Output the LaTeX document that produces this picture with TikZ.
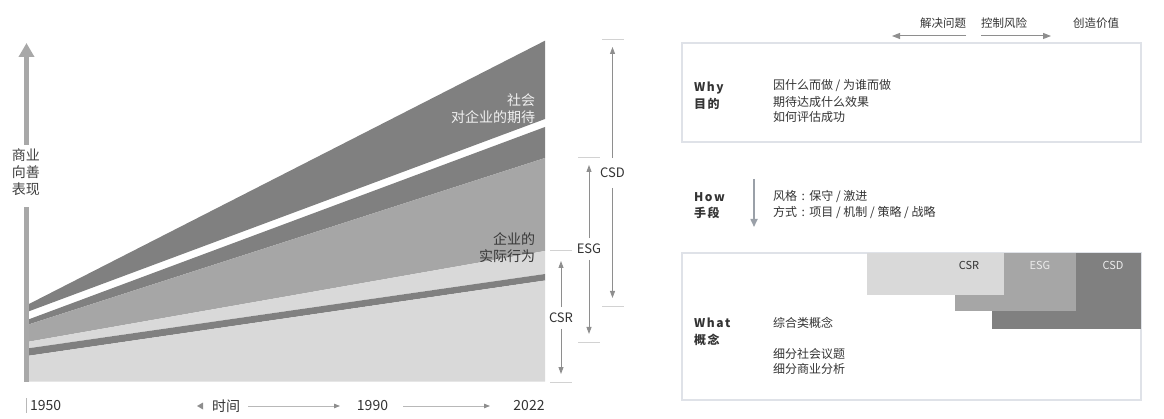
\documentclass[tikz,border=0pt]{standalone}
\usepackage{fontspec}
\setmainfont{Noto Sans CJK SC}
\usetikzlibrary{arrows.meta}
\definecolor{dk}{HTML}{808080}
\definecolor{md}{HTML}{A6A6A6}
\definecolor{lt}{HTML}{D9D9D9}
\definecolor{txt}{HTML}{333333}
\definecolor{boxc}{HTML}{DFE2E8}
\definecolor{arr}{HTML}{8E8E8E}
\definecolor{tickc}{HTML}{D2D2D2}
\definecolor{axc}{HTML}{A8A8A8}
\definecolor{howc}{HTML}{9AA0A8}
\definecolor{tlc}{HTML}{B8B8B8}
\newcommand{\mycolon}{\hspace{4.5pt}:\hspace{4.5pt}}
\begin{document}
\begin{tikzpicture}[x=1pt,y=-1pt,
  every node/.style={inner sep=0pt,outer sep=0pt,text=txt},
  big/.style={font=\fontsize{14pt}{17pt}\selectfont},
  chl/.style={anchor=east,font=\fontsize{14pt}{17pt}\selectfont},
  brl/.style={font=\fontsize{13pt}{15pt}\selectfont,inner ysep=6pt,fill=white},
  rtxt/.style={anchor=west,font=\fontsize{12pt}{15pt}\selectfont},
  toptxt/.style={font=\fontsize{11.5pt}{14pt}\selectfont},
  head/.style={anchor=west,font=\fontsize{12pt}{15pt}\selectfont\bfseries\addfontfeature{LetterSpace=14}},
  blk/.style={font=\fontsize{11pt}{13pt}\selectfont},
  brk/.style={draw=arr,line width=0.9pt,-{Triangle[length=7pt,width=5pt]}},
  tk/.style={draw=tickc,line width=1pt},
  tl/.style={draw=tlc,line width=0.8pt,-{Triangle[length=6pt,width=4.5pt,color=arr]}},
  tarr/.style={draw=arr,line width=1pt,-{Triangle[length=8pt,width=6pt]}},
  frame/.style={draw=boxc,line width=1.2pt}
]
\useasboundingbox (0,0) rectangle (1164,419);

% ---------------- chart bands ----------------
\fill[dk] (27,305) -- (545,40.7) -- (545,119) -- (27,312) -- cycle;
\fill[dk] (27,320) -- (545,127) -- (545,158) -- (27,325) -- cycle;
\fill[md] (27,325) -- (545,158) -- (545,251) -- (27,342) -- cycle;
\fill[lt] (27,342) -- (545,251) -- (545,274) -- (27,348.5) -- cycle;
\fill[dk] (27,348.5) -- (545,274) -- (545,280.5) -- (27,356) -- cycle;
\fill[lt] (27,356) -- (545,280.5) -- (545,381.5) -- (27,381.5) -- cycle;

% chart labels
\node[chl,text=white!94!black] (soc1) at (535,100) {社会};
\node[chl,text=white!94!black] (soc2) at (535,117) {对企业的期待};
\node[chl,text=black!78] (act1) at (535,239.5) {企业的};
\node[chl,text=black!78] (act2) at (535,256.5) {实际行为};

% y axis
\node[big,align=left,anchor=north west,text=black!75] (ylab) at (12,149) {商业\\向善\\表现};
\coordinate (ybot) at (26.5,381.5);
\coordinate (ytop) at (26.5,43);
\draw[axc,line width=5pt] (ybot) -- (26.5,207);
\draw[axc,line width=5pt,-{Triangle[length=14pt,width=15pt]}] (26.5,145) -- (ytop);

% x axis labels
\draw[draw=tlc,line width=1pt] (26,398) -- (26,413);
\node[big,anchor=west] (y1950) at (30,406) {1950};
\fill[arr] (197,406) -- (203,402.5) -- (203,409.5) -- cycle;
\node[big] (time) at (226,406) {时间};
\node[big] (y1990) at (372.5,406) {1990};
\node[big] (y2022) at (529,406) {2022};
\coordinate (t1a) at (248,406);
\coordinate (t1b) at (340,406);
\coordinate (t2a) at (403,406);
\coordinate (t2b) at (490,406);
\draw[tl] (t1a) -- (t1b);
\draw[tl] (t2a) -- (t2b);

% ---------------- brackets ----------------
\draw[tk] (602,40) -- (624,40);
\draw[tk] (602,307) -- (624,307);
\draw[tk] (578,158) -- (600,158);
\draw[tk] (578,343) -- (600,343);
\draw[tk] (550,251) -- (572,251);
\draw[tk] (550,382) -- (572,382);

\node[brl,inner ysep=10pt] (csd) at (612.5,173) {CSD};
\node[brl] (esg) at (589,249) {ESG};
\node[brl] (csr) at (561,318) {CSR};
\coordinate (csdT) at (612.5,47);
\coordinate (csdB) at (612.5,298);
\coordinate (esgT) at (589,165);
\coordinate (esgB) at (589,334);
\coordinate (csrT) at (561,261);
\coordinate (csrB) at (561,374);
\draw[brk] (csd) -- (csdT);
\draw[brk] (csd) -- (csdB);
\draw[brk] (esg) -- (esgT);
\draw[brk] (esg) -- (esgB);
\draw[brk] (csr) -- (csrT);
\draw[brk] (csr) -- (csrB);

% ---------------- right panel ----------------
\node[toptxt] (solve) at (943,23) {解决问题};
\node[toptxt] (risk) at (1004,23) {控制风险};
\node[toptxt] (value) at (1096,23) {创造价值};
\coordinate (la) at (966,36);
\coordinate (lb) at (892,36);
\coordinate (ra) at (981,36);
\coordinate (rb) at (1051,36);
\draw[tarr] (la) -- (lb);
\draw[tarr] (ra) -- (rb);

% Why box
\draw[frame] (682,43) rectangle (1141,142);
\node[head] (why) at (694,88) {Why};
\node[head] (whyc) at (694,104) {目的};
\node[rtxt] (w1) at (773,86) {因什么而做 / 为谁而做};
\node[rtxt] (w2) at (773,101.5) {期待达成什么效果};
\node[rtxt] (w3) at (773,117) {如何评估成功};

% How
\node[head] (how) at (694,197) {How};
\node[head] (howc) at (694,212.5) {手段};
\coordinate (hA) at (754,179);
\coordinate (hB) at (754,227);
\draw[draw=howc,line width=1.6pt,-{Triangle[length=8pt,width=7pt]}] (hA) -- (hB);
\node[rtxt] (h1) at (773,197) {风格\mycolon 保守 / 激进};
\node[rtxt] (h2) at (773,212.5) {方式\mycolon 项目 / 机制 / 策略 / 战略};

% What box
\draw[frame] (682,253) rectangle (1141,400);
\fill[dk] (992,253) rectangle (1141,329);
\fill[md] (955,253) rectangle (1076,311);
\fill[lt] (867,253) rectangle (1004,295);
\node[blk] (bcsr) at (969,265) {CSR};
\node[blk,text=white!92!black] (besg) at (1040,265) {ESG};
\node[blk,text=white!92!black] (bcsd) at (1113,265) {CSD};
\node[head] (what) at (694,323) {What};
\node[head] (whatc) at (694,340) {概念};
\node[rtxt] (c1) at (773,323) {综合类概念};
\node[rtxt] (c2) at (773,354) {细分社会议题};
\node[rtxt] (c3) at (773,369) {细分商业分析};
\end{tikzpicture}
\end{document}
